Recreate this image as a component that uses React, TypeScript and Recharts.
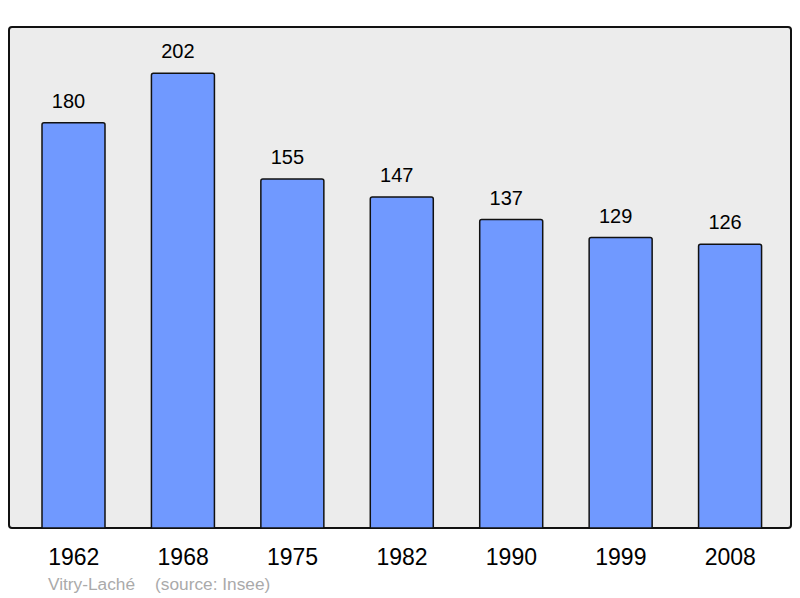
import { Bar, BarChart, LabelList, XAxis, YAxis } from 'recharts'

const years = ['1962', '1968', '1975', '1982', '1990', '1999', '2008']
const population = [180, 202, 155, 147, 137, 129, 126]
const townName = 'Vitry-Laché'
const sourceNote = '(source: Insee)'

const data = years.map((year, i) => ({ year, pop: population[i] }))

const font = '"Liberation Sans", Arial, sans-serif'

export default function App() {
  return (
    <div
      style={{
        position: 'relative',
        width: 800,
        height: 598,
        margin: '-8px -8px 0 -8px',
        fontFamily: font,
      }}
    >
      <div
        style={{
          position: 'absolute',
          left: 8,
          top: 26,
          width: 784,
          height: 503,
          boxSizing: 'border-box',
          border: '2px solid #111',
          borderRadius: 4,
          background: '#ececec',
        }}
      />
      <BarChart
        width={800}
        height={598}
        data={data}
        margin={{ top: 27, right: 9, left: 9, bottom: 30 }}
        style={{ position: 'absolute', left: 0, top: 0 }}
      >
        <XAxis
          dataKey="year"
          axisLine={false}
          tickLine={false}
          tickSize={0}
          tickMargin={21}
          height={40}
          padding={{ left: 10, right: 6 }}
          tick={{ fontSize: 23, fill: '#000', fontFamily: font }}
        />
        <YAxis hide domain={[0, 222.5]} />
        <Bar
          dataKey="pop"
          fill="#7099ff"
          stroke="#111"
          strokeWidth={1.5}
          barSize={63}
          radius={[2, 2, 0, 0]}
          isAnimationActive={false}
        >
          <LabelList
            dataKey="pop"
            position="top"
            offset={15}
            dx={-5}
            style={{ fontSize: 20, fill: '#000', fontFamily: font }}
          />
        </Bar>
      </BarChart>
      <div
        style={{
          position: 'absolute',
          left: 48,
          top: 574,
          fontSize: 17.3,
          lineHeight: '20px',
          color: '#aaaaaa',
          whiteSpace: 'pre',
        }}
      >
        {townName}
        <span style={{ marginLeft: 20 }}>{sourceNote}</span>
      </div>
    </div>
  )
}
